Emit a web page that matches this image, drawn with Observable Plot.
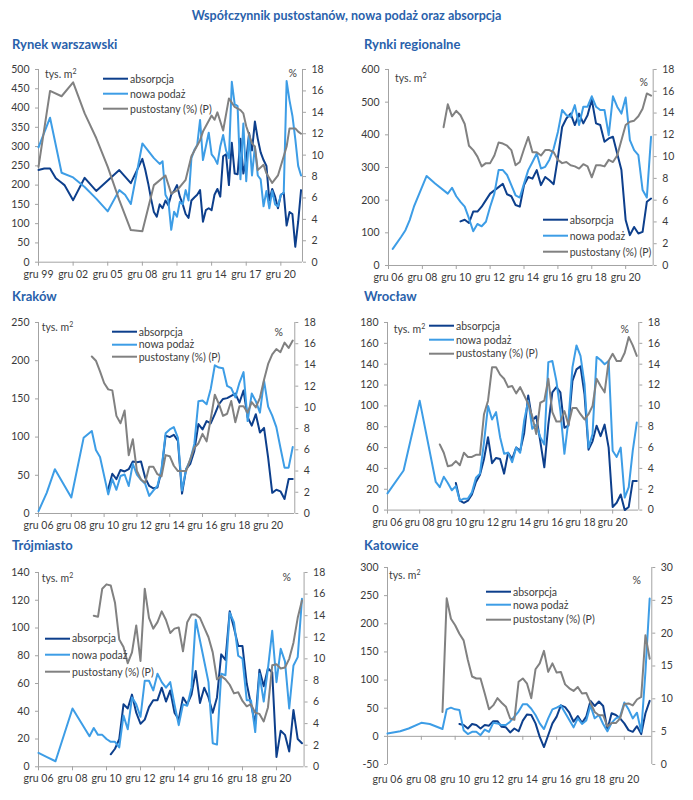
<!DOCTYPE html>
<html>
<head>
<meta charset="utf-8">
<script src="https://cdn.jsdelivr.net/npm/d3@7"></script>
<script src="https://cdn.jsdelivr.net/npm/@observablehq/plot@0.6"></script>
<style>
  body { margin: 0; background: #fff; }
  #chart { position: relative; width: 693px; height: 800px; overflow: hidden; background: #fff;
           font-family: Lato, "Open Sans", sans-serif; color: #404040; }
  .t { position: absolute; white-space: nowrap; transform: translateY(-50%); line-height: 1.2; }
  .main { font-size: 12.5px; font-weight: 700; color: #2961ab; left: 0; width: 693px; text-align: center; }
  .ptitle { font-size: 13px; font-weight: 700; color: #2961ab; }
  .unit { font-size: 10.5px; color: #404040; }
  .leg { font-size: 10.5px; color: #404040; display: flex; align-items: center; }
  .sw { display: inline-block; width: 25px; height: 2px; margin-right: 2px; }
</style>
</head>
<body>
<div id="chart"></div>
<script>
// ---------------- DATA (quarterly; index 0 = grudzień of the start year) ----------------
// Rynek warszawski, start gru 99
const warAbsorpcja = [239,null,243,null,243,null,218,null,206,200,null,null,161,null,null,null,
  219,null,null,null,185,null,null,null,212,null,null,null,239,null,null,null,
  205,null,null,null,268,240,205,165,130,118,150,140,160,148,175,185,
  200,170,150,125,115,160,168,175,187,105,135,140,135,175,190,170,
  275,280,200,310,230,228,320,230,265,335,290,365,320,285,265,250,
  160,190,170,140,175,180,95,130,125,40,105,187];
const warPodaz = [298,null,null,null,375,null,null,null,232,null,null,null,220,null,null,null,
  195,null,null,null,165,null,null,null,132,null,null,null,187,null,175,null,
  151,null,null,null,308,null,null,null,270,null,255,262,175,160,84,131,
  118,157,150,187,160,270,291,304,369,265,300,336,280,270,255,300,
  330,290,270,468,410,405,215,360,210,330,225,300,225,215,145,185,
  140,185,150,145,175,180,470,420,380,320,250,225];
const warPustostany = [8.9,null,null,null,16.0,null,null,null,15.5,null,null,null,16.8,null,null,null,
  13.9,null,null,null,11.6,null,null,null,8.9,null,null,null,5.8,null,null,null,
  3.0,null,null,null,2.9,null,null,null,7.2,null,null,null,8.1,null,6.4,null,
  6.7,null,null,7.7,null,9.9,null,null,11.4,12.2,null,null,13.7,13.3,14.0,null,
  12.3,null,15.3,null,14.5,null,14.2,13.9,12.7,null,11.1,10.8,8.6,null,9.1,8.3,
  null,7.4,null,8.1,null,9.9,10.8,12.5,null,12.5,12.2,12.0];

// Rynki regionalne, start gru 06
const regPodaz = [null,51,null,88,108,139,180,null,243,274,null,251,null,null,220,238,
  212,195,180,144,105,127,120,134,180,220,292,292,277,246,215,208,
  251,292,317,343,297,302,324,358,409,476,460,455,491,430,486,486,
  518,486,476,476,399,518,486,465,514,384,353,338,231,208,394];
const regAbsorpcja = [135,140,130,165,165,180,200,220,230,240,250,218,212,185,180,246,271,266,292,246,
  271,261,249,330,424,450,465,430,465,435,460,508,435,430,379,389,394,343,292,139,93,118,98,103,195,205]; // od indeksu 17
const regPustostany = [12.7,14.8,13.7,14.2,13.8,13.0,11.0,10.6,10.0,9.1,9.4,9.4,10.1,11.3,11.2,11.0,10.6,9.2,9.5,10.7,
  11.8,10.4,10.4,10.1,10.6,10.6,10.4,9.7,9.4,9.5,9.2,9.1,8.9,9.3,9.1,8.1,9.2,9.2,9.1,9.7,
  9.5,10.1,11.5,12.9,13.2,13.3,13.7,14.4,15.8,15.6]; // od indeksu 13

// Kraków
const krkPodaz = [3,null,27,null,58,null,null,null,21,null,null,99,null,108,83,74,
  null,25,45,31,49,51,36,65,51,44,39,23,30,36,58,105,
  110,113,99,30,58,70,91,147,148,143,163,194,191,190,167,164,
  152,171,185,121,157,147,132,174,140,128,113,86,60,60,87];
const krkAbsorpcja = [32,52,45,57,55,58,68,67,68,47,36,33,34,56,102,100,103,95,26,58,
  65,82,117,110,121,118,130,143,150,151,154,157,145,161,126,115,130,106,112,73,27,31,29,19,45,45]; // od 17
const krkPustostany = [14.8,14.4,13.4,12.3,11.7,11.6,9.2,8.5,9.7,5.5,7.0,4.0,3.2,2.9,4.4,4.4,3.7,3.5,5.5,5.4,
  4.5,4.0,4.0,4.0,5.1,6.2,6.6,7.5,6.8,8.9,11.2,10.3,9.2,9.4,10.6,8.6,10.1,10.1,9.5,10.5,
  10.0,10.9,12.6,14.1,15.0,15.5,15.2,16.1,15.6,16.3]; // od 13

// Wrocław
const wroPodaz = [16,null,null,null,38,null,null,null,105,null,null,null,27,22,32,26,
  19,23,9,11,11,17,31,35,65,100,87,94,70,54,55,46,
  60,55,86,105,78,82,70,63,142,143,124,95,54,86,137,158,
  148,121,60,73,147,144,140,143,57,51,60,12,22,57,84];
const wroAbsorpcja = [26,9,7,9,15,27,34,49,70,45,50,49,35,55,49,60,57,74,110,86,
  90,66,41,82,113,118,113,79,81,124,135,138,111,58,66,81,71,82,60,3,7,15,0,3,28,28]; // od 17
const wroPustostany = [6.3,5.5,4.2,4.3,4.7,4.3,5.5,5.1,5.1,5.3,5.3,9.2,10.5,13.7,13.7,13.0,12.6,11.8,11.9,11.2,
  11.8,11.0,10.2,9.0,7.3,10.3,10.5,12.6,9.4,8.5,8.5,9.5,8.2,9.8,9.8,9.2,8.7,9.2,10.0,12.6,
  11.9,11.3,14.3,15.0,14.3,14.3,15.1,16.6,15.8,14.8]; // od 13

// Trójmiasto
const troPodaz = [10,null,7,null,4,null,null,null,42,null,null,null,22,28,23,23,
  20,18,18,14,37,27,50,45,36,62,62,55,67,61,57,61,
  45,30,45,44,57,106,91,76,61,17,16,67,66,111,104,80,
  78,48,48,25,67,47,71,98,61,85,76,42,73,79,121];
const troAbsorpcja = [9,13,20,45,42,52,39,31,34,43,48,48,57,47,55,39,34,50,45,52,
  69,46,57,50,39,50,81,77,112,100,87,87,60,45,31,70,58,71,68,7,26,23,11,41,20,17]; // od 17
const troPustostany = [14.0,13.9,16.5,16.9,16.8,15.2,11.8,11.1,9.6,10.6,13.1,9.8,16.5,13.8,12.8,13.4,14.4,13.6,12.4,12.8,
  12.9,10.7,13.4,14.1,14.1,13.8,12.9,12.0,10.6,8.1,8.4,8.1,7.6,6.8,6.9,6.1,5.6,5.8,5.0,4.9,
  4.2,5.5,9.4,9.5,9.1,9.2,10.0,11.5,13.8,15.4]; // od 13

// Katowice
const katPodaz = [5,null,null,9,null,14,null,null,24,null,22,null,null,13,48,51,
  48,47,11,4,8,8,2,12,8,24,23,20,20,26,35,44,
  57,57,49,38,23,13,32,48,51,55,42,29,16,32,22,28,
  55,32,38,22,9,24,32,35,60,48,32,42,8,115,245];
const katAbsorpcja = [22,20,14,22,20,14,20,19,27,27,17,16,7,14,9,28,39,38,23,-1,
  -19,2,23,35,55,52,42,26,36,24,35,63,54,62,54,12,41,38,32,23,11,8,18,4,41,63]; // od 17
const katPustostany = [8.0,25.3,22.2,21.2,19.9,18.9,15.9,13.4,13.1,13.1,10.8,8.4,9.0,10.1,9.4,8.8,7.0,6.8,12.6,13.1,
  12.3,10.1,14.5,15.4,17.3,14.1,15.4,14.0,14.1,12.2,11.6,11.2,11.8,10.8,10.9,9.4,8.0,7.5,7.5,5.8,
  6.3,6.3,7.0,9.2,9.3,9.0,9.9,10.3,19.7,16.1]; // od 13

// Tick labels
const warXTicks = [1999, 2002, 2005, 2008, 2011, 2014, 2017, 2020];
const regXTicks = [2006, 2008, 2010, 2012, 2014, 2016, 2018, 2020];
const warYTicks = [0, 50, 100, 150, 200, 250, 300, 350, 400, 450, 500];
const regYTicks = [0, 100, 200, 300, 400, 500, 600];
const krkYTicks = [0, 50, 100, 150, 200, 250];
const wroYTicks = [0, 20, 40, 60, 80, 100, 120, 140, 160, 180];
const troYTicks = [0, 20, 40, 60, 80, 100, 120, 140];
const katYTicks = [-50, 0, 50, 100, 150, 200, 250, 300];
const pctTicks18 = [0, 2, 4, 6, 8, 10, 12, 14, 16, 18];
const pctTicks30 = [0, 5, 10, 15, 20, 25, 30];

const seriesNames = ["absorpcja", "nowa podaż", "pustostany (%) (P)"];

// ---------------- STYLE ----------------
const DARK = "#0d3f8c", LIGHT = "#3d9de6", GRAY = "#818181", AXIS = "#a3a3a3", TEXT = "#3a3a3a";
const gruFmt = t => "gru " + String(t % 100).padStart(2, "0");
const qpts = (base, offset, values) =>
  values.map((v, i) => ({t: base + (offset + i) / 4, v})).filter(d => d.v != null);

const panels = [
  {title: "Rynek warszawski", tpos: [12, 45], frame: [37.7, 69.3, 301.7, 262], base: 1999,
   xDomain: [1999, 2021.875], xTicks: warXTicks, yDomain: [0, 500], yTicks: warYTicks,
   rDomain: [0, 18], rTicks: pctTicks18,
   abs: [0, warAbsorpcja], pod: [0, warPodaz], pus: [0, warPustostany],
   unit: [45, 74], pct: [297, 73], legend: [103, [79, 94, 109]]},
  {title: "Rynki regionalne", tpos: [364, 45], frame: [388.3, 69.3, 653, 265.3], base: 2006,
   xDomain: [2006, 2021.625], xTicks: regXTicks, yDomain: [0, 600], yTicks: regYTicks,
   rDomain: [0, 18], rTicks: pctTicks18,
   abs: [17, regAbsorpcja], pod: [0, regPodaz], pus: [13, regPustostany],
   unit: [395, 78], pct: [648, 82], legend: [542.7, [220, 236, 252]]},
  {title: "Kraków", tpos: [12, 297], frame: [37.7, 321.7, 294, 512.7], base: 2006,
   xDomain: [2006, 2021.625], xTicks: regXTicks, yDomain: [0, 250], yTicks: krkYTicks,
   rDomain: [0, 18], rTicks: pctTicks18,
   abs: [17, krkAbsorpcja], pod: [0, krkPodaz], pus: [13, krkPustostany],
   unit: [41.7, 326.7], pct: [283, 332], legend: [111.7, [331.7, 344.3, 356.7]]},
  {title: "Wrocław", tpos: [364, 297], frame: [387, 321.7, 638.3, 509.3], base: 2006,
   xDomain: [2006, 2021.625], xTicks: regXTicks, yDomain: [0, 180], yTicks: wroYTicks,
   rDomain: [0, 18], rTicks: pctTicks18,
   abs: [17, wroAbsorpcja], pod: [0, wroPodaz], pus: [13, wroPustostany],
   unit: [393.7, 329.3], pct: [629, 329], legend: [429, [326, 340, 353.3]]},
  {title: "Trójmiasto", tpos: [12, 546], frame: [37.7, 571.7, 303.3, 766], base: 2006,
   xDomain: [2006, 2021.625], xTicks: regXTicks, yDomain: [0, 140], yTicks: troYTicks,
   rDomain: [0, 18], rTicks: pctTicks18,
   abs: [17, troAbsorpcja], pod: [0, troPodaz], pus: [13, troPustostany],
   unit: [41.7, 578], pct: [291, 576.7], legend: [45, [638.3, 655, 671.7]]},
  {title: "Katowice", tpos: [364, 546], frame: [386.7, 567.3, 651, 764.3], base: 2006,
   xDomain: [2006, 2021.625], xTicks: regXTicks, yDomain: [-50, 300], yTicks: katYTicks,
   rDomain: [0, 30], rTicks: pctTicks30, xPad: 11,
   abs: [17, katAbsorpcja], pod: [0, katPodaz], pus: [13, katPustostany],
   unit: [389, 575], pct: [641, 580], legend: [486, [591.7, 605, 619.3]]}
];

const root = document.getElementById("chart");

function addText(cls, x, y, text, extra) {
  const el = document.createElement("div");
  el.className = "t " + cls;
  el.style.left = x + "px";
  el.style.top = y + "px";
  if (extra) Object.assign(el.style, extra);
  el.textContent = text;
  root.appendChild(el);
  return el;
}

function drawPanel(p) {
  const mL = 44, mR = 34, mT = 8, mB = 30;
  const [L, T, R, B] = p.frame;
  const pw = R - L, ph = B - T;
  const [y0, y1] = p.yDomain, [r0, r1] = p.rDomain;
  const toY = v => y0 + (v - r0) * (y1 - y0) / (r1 - r0);
  const fromY = y => r0 + (y - y0) * (r1 - r0) / (y1 - y0);
  const zeroFrac = (y1 - 0) / (y1 - y0);
  const abs = qpts(p.base, p.abs[0], p.abs[1]);
  const pod = qpts(p.base, p.pod[0], p.pod[1]);
  const pus = qpts(p.base, p.pus[0], p.pus[1]);

  const svg = Plot.plot({
    width: pw + mL + mR,
    height: ph + mT + mB,
    marginLeft: mL, marginRight: mR, marginTop: mT, marginBottom: mB,
    style: "font-family: Lato, 'Open Sans', sans-serif; font-size: 10.5px; background: transparent; overflow: visible;",
    x: {domain: p.xDomain, label: null},
    y: {domain: p.yDomain, label: null},
    marks: [
      Plot.ruleX([p.xDomain[0]], {stroke: AXIS}),
      Plot.ruleX([p.xDomain[1]], {stroke: AXIS}),
      Plot.ruleY([0], {stroke: AXIS}),
      Plot.axisY(p.yTicks, {anchor: "left", tickSize: 3, tickPadding: 6, stroke: AXIS, fill: TEXT,
        label: null, tickFormat: d => String(d)}),
      Plot.axisY(p.rTicks.map(toY), {anchor: "right", tickSize: 3, tickPadding: 6, stroke: AXIS, fill: TEXT,
        label: null, tickFormat: d => String(Math.round(fromY(d)))}),
      Plot.axisX(p.xTicks, {anchor: "bottom", tickSize: 0, tickPadding: p.xPad || 8, fill: TEXT,
        label: null, tickFormat: gruFmt}),
      Plot.tickX(p.xTicks, {x: d => d, stroke: AXIS, insetTop: ph * zeroFrac, insetBottom: ph * (1 - zeroFrac) - 4}),
      Plot.line(abs, {x: "t", y: "v", stroke: DARK, strokeWidth: 2}),
      Plot.line(pod, {x: "t", y: "v", stroke: LIGHT, strokeWidth: 2}),
      Plot.line(pus, {x: "t", y: d => toY(d.v), stroke: GRAY, strokeWidth: 2})
    ]
  });
  svg.style.position = "absolute";
  svg.style.left = (L - mL) + "px";
  svg.style.top = (T - mT) + "px";
  root.appendChild(svg);

  addText("ptitle", p.tpos[0], p.tpos[1], p.title);
  const u = addText("unit", p.unit[0], p.unit[1], "");
  u.innerHTML = "tys. m<sup style='font-size:7px;vertical-align:4px'>2</sup>";
  addText("unit", p.pct[0], p.pct[1], "%", {transform: "translate(-100%, -50%)"});

  const colors = [DARK, LIGHT, GRAY];
  seriesNames.forEach((name, i) => {
    const el = document.createElement("div");
    el.className = "t leg";
    el.style.left = p.legend[0] + "px";
    el.style.top = p.legend[1][i] + "px";
    el.innerHTML = `<span class="sw" style="background:${colors[i]}"></span><span>${name}</span>`;
    root.appendChild(el);
  });
}

addText("main", 0, 15, "Współczynnik pustostanów, nowa podaż oraz absorpcja");
panels.forEach(drawPanel);
</script>
</body>
</html>
